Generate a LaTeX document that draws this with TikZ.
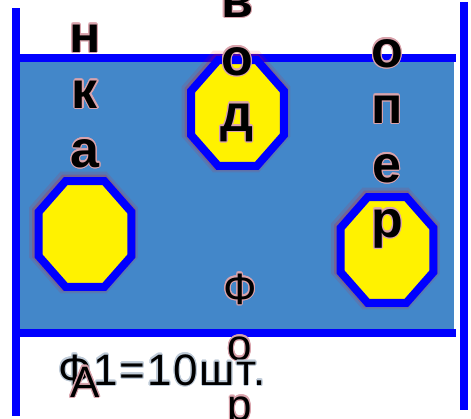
\documentclass[tikz,border=0pt]{standalone}
\usepackage{fontspec}
\setmainfont{Liberation Sans}
\usepackage{xcolor}
\usepackage{contour}
\definecolor{pureBlue}{HTML}{0000FF}
\definecolor{tankBlue}{HTML}{4387C9}
\definecolor{glowRed}{HTML}{D9A3AC}
\definecolor{glowGray}{HTML}{BFCBD8}
\usetikzlibrary{shapes.geometric}
\contourlength{1.1pt}
\contournumber{16}

\begin{document}
\begin{tikzpicture}[
  x=1pt, y=-1pt,
  wall/.style={draw=pureBlue, line width=8pt},
  bold letter/.style={font=\fontsize{52}{52}\selectfont\bfseries, anchor=base, inner sep=0pt},
  thin letter/.style={font=\fontsize{44}{44}\selectfont, anchor=base, inner sep=0pt},
  octa/.style={regular polygon, regular polygon sides=8, minimum size=100.6pt,
               yscale=1.14, draw=pureBlue, fill=yellow, line width=8pt, inner sep=0pt,
               preaction={draw=red, opacity=.10, line width=16pt,
                          transform canvas={shift={(-1.5pt,1.5pt)}}},
               preaction={draw=red, opacity=.18, line width=11pt,
                          transform canvas={shift={(-1pt,1pt)}}}}
]
\useasboundingbox (0,0) rectangle (471,418);
% tank
\fill[tankBlue] (20,58) rectangle (454,333);
\draw[wall] (20,58) -- (456,58);
\draw[wall] (20,333) -- (456,333);
\draw[wall] (16,8) -- (16,416);
\draw[wall] (463.5,2) -- (463.5,410);
% octagons
\node[octa] (octLeft) at (85,234) {};
\node[octa] (octMid) at (237.5,113) {};
\node[octa] (octRight) at (387,250) {};
% letter columns
\foreach \ch/\yy [count=\i] in {н/52,к/108,а/167}
  \node[bold letter] (colA\i) at (85,\yy) {\contour{glowRed}{\ch}};
\foreach \ch/\yy [count=\i] in {в/17,о/75,д/131}
  \node[bold letter] (colB\i) at (237,\yy) {\contour{glowRed}{\ch}};
\foreach \ch/\yy [count=\i] in {о/67,п/123,е/182,р/237}
  \node[bold letter] (colC\i) at (387,\yy) {\contour{glowRed}{\ch}};
\foreach \ch/\yy [count=\i] in {Ф/304,о/360,р/420}
  \node[thin letter] (colD\i) at (240,\yy) {\contour{glowRed}{\ch}};
% count
\node[font=\fontsize{44}{44}\selectfont\addfontfeature{LetterSpace=4}, anchor=base west, inner sep=0pt]
  (count) at (58,385) {\contour{glowGray}{Ф1=10шт.}};
\node[thin letter] (letterA) at (85,397) {\contour{glowRed}{А}};
\end{tikzpicture}
\end{document}
